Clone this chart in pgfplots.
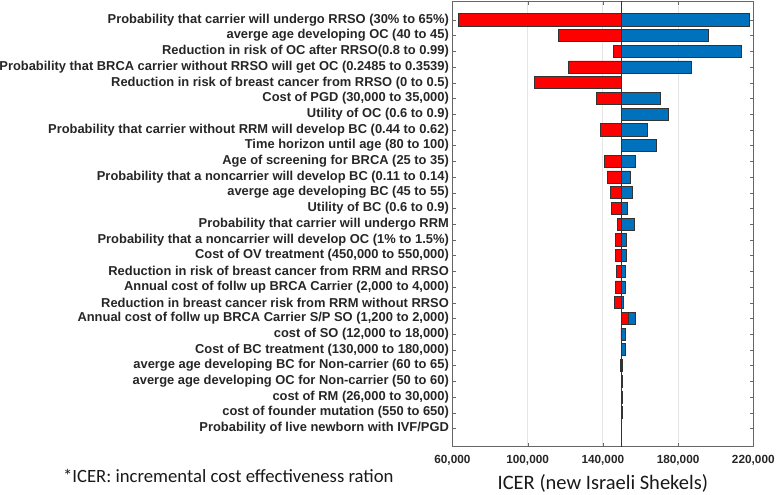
\documentclass[border=0pt]{standalone}
\usepackage{fontspec}
\setmainfont{Liberation Sans}
\newfontfamily\carlito{Carlito}
\usepackage{pgfplots}
\usepackage{pgfplotstable}
\pgfplotsset{compat=1.18}

\definecolor{mred}{RGB}{255,0,0}
\definecolor{mblue}{RGB}{0,114,189}

% ICER at low and high value of each parameter, base case 150,000
\pgfplotstableread{
row low high
1 63300 217700
2 116300 195900
3 145500 213700
4 121800 187100
5 103500 150000
6 136700 170400
7 150000 174900
8 138900 163400
9 150000 168500
10 140900 157200
11 142300 154500
12 143900 155600
13 144400 153100
14 147800 156500
15 146700 152700
16 146700 152700
17 147100 152200
18 146700 151800
19 146200 151000
20 153800 157400
21 149600 152000
22 150000 151700
23 149300 150600
24 150000 150300
25 150000 150300
26 150000 150300
27 150000 150000
}\tornado

\begin{document}
\begin{tikzpicture}
\useasboundingbox (0,0) rectangle (777pt,495pt);
\begin{axis}[
  at={(452.4pt,48.3pt)}, anchor=south west,
  scale only axis, width=300.9pt, height=445.2pt,
  xmin=-90000, xmax=70000,
  ymin=-0.17, ymax=28.17, y dir=reverse,
  scaled x ticks=false,
  xtick={-90000,-50000,-10000,30000,70000},
  xticklabels={{60,000},{100,000},{140,000},{180,000},{220,000}},
  ytick={1,...,27},
  yticklabels={
    {Probability that carrier will undergo RRSO (30\% to 65\%)},
    {averge age developing OC (40 to 45)},
    {Reduction in risk of OC after RRSO(0.8 to 0.99)},
    {Probability that BRCA carrier without RRSO will get OC (0.2485 to 0.3539)},
    {Reduction in risk of breast cancer from RRSO (0 to 0.5)},
    {Cost of PGD (30,000 to 35,000)},
    {Utility of OC (0.6 to 0.9)},
    {Probability that carrier without RRM will develop BC (0.44 to 0.62)},
    {Time horizon until age (80 to 100)},
    {Age of screening for BRCA (25 to 35)},
    {Probability that a noncarrier will develop BC (0.11 to 0.14)},
    {averge age developing BC (45 to 55)},
    {Utility of BC (0.6 to 0.9)},
    {Probability that carrier will undergo RRM},
    {Probability that a noncarrier will develop OC (1\% to 1.5\%)},
    {Cost of OV treatment (450,000 to 550,000)},
    {Reduction in risk of breast cancer from RRM and RRSO},
    {Annual cost of follw up BRCA Carrier (2,000 to 4,000)},
    {Reduction in breast cancer risk from RRM without RRSO},
    {Annual cost of follw up BRCA Carrier S/P SO (1,200 to 2,000)},
    {cost of SO (12,000 to 18,000)},
    {Cost of BC treatment (130,000 to 180,000)},
    {averge age developing BC for Non-carrier (60 to 65)},
    {averge age developing OC for Non-carrier (50 to 60)},
    {cost of RM (26,000 to 30,000)},
    {cost of founder mutation (550 to 650)},
    {Probability of live newborn with IVF/PGD}},
  yticklabel style={font=\fontsize{12.9}{13}\selectfont\bfseries, text=black!85},
  xticklabel style={font=\fontsize{11.8}{12}\selectfont\bfseries, text=black!85,
    yshift=-5.5pt},
  tick align=inside, tick pos=both,
  major tick length=3.5pt,
  tick style={black!60},
  axis line style={black!60, line width=0.9pt},
  xmajorgrids, major grid style={black!10, line width=0.8pt},
  extra x ticks={0}, extra x tick labels={},
  extra x tick style={major tick length=0pt,
    major grid style={black!80, line width=0.7pt}},
  xlabel={ICER (new Israeli Shekels)},
  xlabel style={font=\carlito\fontsize{20.5}{22}\selectfont, text=black!90,
    at={(axis description cs:0.5,0)}, anchor=center, yshift=-36.6pt},
  clip=false,
]
\addplot[xbar, bar width=0.77, fill=mblue, draw=black!80, line width=0.7pt]
  table[x expr=\thisrow{high}-150000, y=row] {\tornado};
\addplot[xbar, bar width=0.77, fill=mred, draw=black!80, line width=0.7pt]
  table[x expr=\thisrow{low}-150000, y=row] {\tornado};
\end{axis}
\node[font=\carlito\fontsize{18.7}{20}\selectfont, text=black!90] at (228.3pt,19.3pt)
  {*ICER: incremental cost effectiveness ration};
\end{tikzpicture}
\end{document}
